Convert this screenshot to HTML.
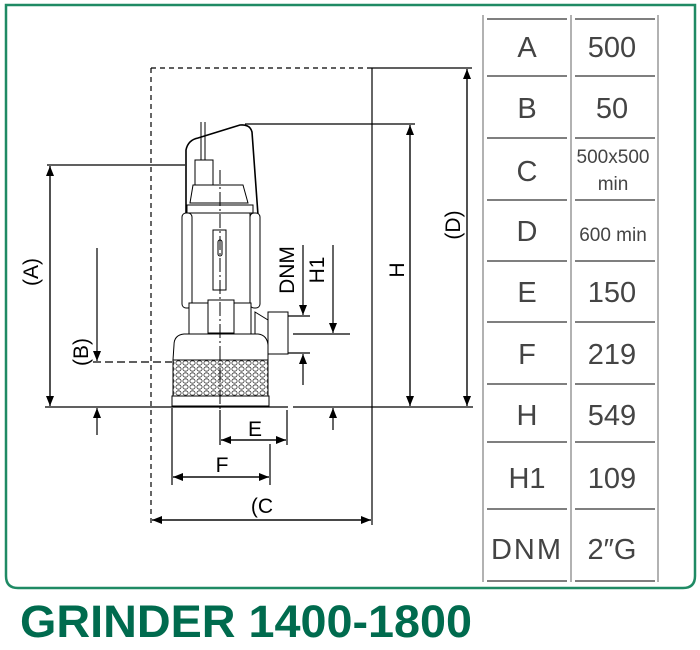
<!DOCTYPE html>
<html><head><meta charset="utf-8"><style>
html,body{margin:0;padding:0;background:#fff;}
body{width:700px;height:650px;position:relative;overflow:hidden;}
svg{position:absolute;left:0;top:0;}
</style></head><body>
<svg width="700" height="650" viewBox="0 0 700 650" font-family="Liberation Sans, sans-serif">
<defs>
<marker id="ar" markerWidth="10" markerHeight="8" refX="10" refY="4" orient="auto" markerUnits="userSpaceOnUse"><path d="M0,0 L10,4 L0,8 z" fill="#000"/></marker>
<pattern id="holes" width="7" height="6" patternUnits="userSpaceOnUse"><rect width="7" height="6" fill="#fff"/><ellipse cx="3.5" cy="3" rx="2.6" ry="2.2" fill="none" stroke="#333" stroke-width="0.8"/></pattern>
</defs>
<path d="M6,5 L695,5 L695,576 Q695,588 683,588 L18,588 Q6,588 6,576 Z" fill="none" stroke="#1f8a64" stroke-width="2.5"/>
<g stroke="#999" stroke-width="1.5"><line x1="483" y1="15" x2="483" y2="582"/><line x1="571" y1="15" x2="571" y2="582"/><line x1="658" y1="15" x2="658" y2="582"/></g>
<g stroke="#333" stroke-width="1.2">
<path d="M487,19H567M575,19H655M487,76H567M575,76H655M487,138H567M575,138H655M487,200H567M575,200H655M487,261H567M575,261H655M487,322H567M575,322H655M487,384H567M575,384H655M487,442H567M575,442H655M487,509H567M575,509H655M487,581H567M575,581H655"/>
</g>
<g fill="#444" font-size="29" text-anchor="middle">
<text x="527" y="57">A</text><text x="612" y="57">500</text>
<text x="527" y="118">B</text><text x="612" y="118">50</text>
<text x="527" y="181">C</text><text x="613" y="163" font-size="19">500x500</text><text x="613" y="190" font-size="19">min</text>
<text x="527" y="241">D</text><text x="613" y="241" font-size="19">600 min</text>
<text x="527" y="302">E</text><text x="612" y="302">150</text>
<text x="527" y="364">F</text><text x="612" y="364">219</text>
<text x="527" y="425">H</text><text x="612" y="425">549</text>
<text x="527" y="488">H1</text><text x="612" y="488">109</text>
<text x="527" y="559" letter-spacing="2">DNM</text><text x="612" y="559">2″G</text>
</g>
<text x="20" y="637" font-size="45" font-weight="bold" fill="#006b4e" textLength="452" lengthAdjust="spacingAndGlyphs">GRINDER 1400-1800</text>
<g stroke="#000" stroke-width="1.2" fill="none">
<line x1="151" y1="68" x2="151" y2="525" stroke-dasharray="5,4"/>
<line x1="151" y1="68" x2="372" y2="68" stroke-dasharray="5,4"/>
<line x1="372" y1="68" x2="372" y2="525"/>
<line x1="372" y1="68" x2="472" y2="68"/>
<line x1="45" y1="407" x2="288" y2="407"/><line x1="293" y1="407" x2="473" y2="407"/>
<line x1="467" y1="69" x2="467" y2="406" marker-end="url(#ar)"/><line x1="467" y1="406" x2="467" y2="69" marker-end="url(#ar)"/>
<line x1="245" y1="124" x2="415" y2="124"/>
<line x1="410" y1="125" x2="410" y2="406" marker-end="url(#ar)"/><line x1="410" y1="406" x2="410" y2="125" marker-end="url(#ar)"/>
<line x1="47" y1="165" x2="185" y2="165"/>
<line x1="50" y1="166" x2="50" y2="406" marker-end="url(#ar)"/><line x1="50" y1="406" x2="50" y2="166" marker-end="url(#ar)"/>
<line x1="93" y1="362" x2="172" y2="362" stroke-dasharray="8,4"/>
<line x1="97" y1="248" x2="97" y2="361" marker-end="url(#ar)"/>
<line x1="97" y1="435" x2="97" y2="408" marker-end="url(#ar)"/>
<line x1="333" y1="245" x2="333" y2="333" marker-end="url(#ar)"/>
<line x1="333" y1="430" x2="333" y2="408" marker-end="url(#ar)"/>
<line x1="293" y1="334" x2="350" y2="334"/>
<line x1="303" y1="245" x2="303" y2="315" marker-end="url(#ar)"/>
<line x1="303" y1="385" x2="303" y2="354" marker-end="url(#ar)"/>
<line x1="287" y1="316" x2="310" y2="316"/><line x1="287" y1="353" x2="310" y2="353"/>
<line x1="220" y1="410" x2="220" y2="445"/><line x1="287" y1="410" x2="287" y2="445"/>
<line x1="221" y1="440" x2="286" y2="440" marker-end="url(#ar)"/><line x1="286" y1="440" x2="221" y2="440" marker-end="url(#ar)"/>
<line x1="172" y1="408" x2="172" y2="485"/><line x1="270" y1="444" x2="270" y2="485"/>
<line x1="173" y1="477" x2="269" y2="477" marker-end="url(#ar)"/><line x1="269" y1="477" x2="173" y2="477" marker-end="url(#ar)"/>
<line x1="152" y1="520" x2="371" y2="520" marker-end="url(#ar)"/><line x1="371" y1="520" x2="152" y2="520" marker-end="url(#ar)"/>
</g>
<g font-size="21" fill="#000">
<text x="255" y="436" text-anchor="middle">E</text>
<text x="222" y="472" text-anchor="middle">F</text>
<text x="262" y="513" text-anchor="middle">(C</text>
<text transform="translate(38,272) rotate(-90)" text-anchor="middle">(A)</text>
<text transform="translate(88,352) rotate(-90)" text-anchor="middle">(B)</text>
<text transform="translate(404,270) rotate(-90)" text-anchor="middle">H</text>
<text transform="translate(460,225) rotate(-90)" text-anchor="middle">(D)</text>
<text transform="translate(294,270) rotate(-90)" text-anchor="middle">DNM</text>
<text transform="translate(324,270) rotate(-90)" text-anchor="middle">H1</text>
</g>
<g stroke="#000" stroke-width="1" fill="#fff">
<path d="M186,218 L186,150 Q188,140 198,138 L240,125 Q250,124 252,132 L258,215" fill="none" stroke-width="1.6"/>
<line x1="201" y1="122" x2="201" y2="160"/><line x1="205" y1="122" x2="205" y2="160"/>
<rect x="195" y="160" width="18" height="25"/>
<path d="M193,185 L243,185 L248,203 L190,203 Z"/>
<rect x="187" y="205" width="66" height="8"/>
<rect x="190" y="213" width="60" height="90"/>
<rect x="182" y="213" width="10" height="95" rx="4"/>
<rect x="250" y="213" width="10" height="95" rx="4"/>
<rect x="213" y="230" width="13" height="60"/>
<rect x="218" y="240" width="4" height="16" rx="2"/>
<rect x="189" y="303" width="62" height="32"/>
<rect x="208" y="300" width="26" height="33"/>
<path d="M255,312 L268,320 L268,343 L255,335 Z"/>
<rect x="268" y="312" width="20" height="42"/>
<path d="M174,345 Q174,335 184,334 L258,334 Q267,335 268,345 L268,360 L173,360 Z"/>
<rect x="173" y="360" width="95" height="36" fill="url(#holes)"/>
<rect x="172" y="396" width="97" height="10"/>
<line x1="220" y1="170" x2="220" y2="410" stroke-dasharray="14,3,2,3"/>
</g>
</svg>
</body></html>
